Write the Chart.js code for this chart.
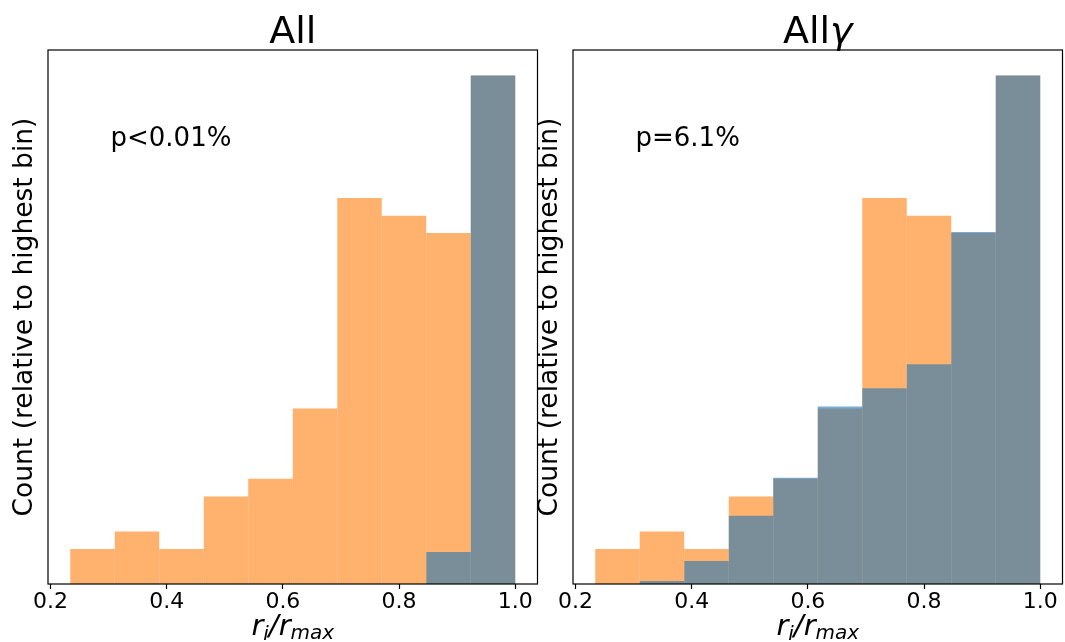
<!DOCTYPE html>
<html>
<head>
<meta charset="utf-8">
<script src="https://cdn.jsdelivr.net/npm/chart.js@4/dist/chart.umd.min.js"></script>
<style>
  html, body { margin: 0; padding: 0; background: #fff; }
  #wrap { position: relative; width: 1065px; height: 642px; overflow: hidden; }
  .panel { position: absolute; top: 0; width: 540px; height: 642px; }
</style>
</head>
<body>
<div id="wrap">
  <div class="panel" style="left:0"><canvas id="cAll"></canvas></div>
  <div class="panel" style="left:525px"><canvas id="cAllGamma"></canvas></div>
</div>
<script>
// Histogram bin centres (10 equal bins from 0.234 to 1.0) and axis ticks
const binCenters = [0.2723, 0.3489, 0.4255, 0.5021, 0.5787, 0.6553, 0.7319, 0.8085, 0.8851, 0.9617];
const xTicks = [0.2, 0.4, 0.6, 0.8, 1.0];

// Counts relative to the highest bin
const referenceCounts = [0.069, 0.103, 0.069, 0.172, 0.207, 0.345, 0.759, 0.724, 0.690, 1.0];
const allCounts       = [0, 0, 0, 0, 0, 0, 0, 0, 0.063, 1.0];
const allGammaCounts  = [0, 0.006, 0.045, 0.134, 0.209, 0.349, 0.385, 0.432, 0.692, 1.0];

const pValueAll = 'p<0.01%';
const pValueAllGamma = 'p=6.1%';

const FONT = "'DejaVu Sans', sans-serif";
const ORANGE = 'rgba(255,127,14,0.6)';
const BLUE = 'rgba(31,119,180,0.6)';

Chart.defaults.font.family = FONT;
Chart.defaults.color = '#000';

// Draws a run of text pieces (with optional font and vertical shift) centred on cx
function drawRich(ctx, parts, cx, baseline) {
  ctx.save();
  ctx.textBaseline = 'alphabetic';
  ctx.textAlign = 'left';
  let total = 0;
  const widths = parts.map(p => { ctx.font = p.font; const w = ctx.measureText(p.text).width; total += w; return w; });
  let x = cx - total / 2;
  parts.forEach((p, i) => {
    ctx.font = p.font;
    ctx.fillStyle = '#000';
    ctx.fillText(p.text, x, baseline + (p.dy || 0));
    x += widths[i];
  });
  ctx.restore();
}

const xLabelParts = [
  { text: 'r', font: `oblique 29px ${FONT}` },
  { text: 'i', font: `oblique 20px ${FONT}`, dy: 5 },
  { text: '/', font: `oblique 29px ${FONT}` },
  { text: 'r', font: `oblique 29px ${FONT}` },
  { text: 'max', font: `oblique 20px ${FONT}`, dy: 4 }
];

const panelDecor = {
  id: 'panelDecor',
  afterDraw(chart, args, opts) {
    const { ctx, chartArea: a } = chart;
    // frame
    ctx.save();
    ctx.strokeStyle = '#000';
    ctx.lineWidth = 1.2;
    ctx.strokeRect(a.left, a.top, a.right - a.left, a.bottom - a.top);
    ctx.restore();
    const cx = (a.left + a.right) / 2;
    // panel title
    drawRich(ctx, opts.title, cx, a.top - 7);
    // x-axis label
    drawRich(ctx, xLabelParts, cx, a.bottom + 51);
    // p-value note
    ctx.save();
    ctx.font = `26px ${FONT}`;
    ctx.fillStyle = '#000';
    ctx.textAlign = 'left';
    ctx.textBaseline = 'alphabetic';
    ctx.fillText(opts.note, a.left + 62.5, a.top + 96);
    ctx.restore();
  }
};

function makePanel(id, counts, title, note) {
  return new Chart(document.getElementById(id), {
    type: 'bar',
    data: {
      datasets: [
        {
          data: binCenters.map((x, i) => ({ x, y: counts[i] })),
          backgroundColor: BLUE, borderWidth: 0, grouped: false, order: 0,
          barPercentage: 1, categoryPercentage: 1, inflateAmount: 0
        },
        {
          data: binCenters.map((x, i) => ({ x, y: referenceCounts[i] })),
          backgroundColor: ORANGE, borderWidth: 0, grouped: false, order: 1,
          barPercentage: 1, categoryPercentage: 1, inflateAmount: 0
        }
      ]
    },
    options: {
      responsive: true,
      maintainAspectRatio: false,
      animation: false,
      events: [],
      layout: { padding: { left: 0, right: 2.5, top: 50, bottom: 0 } },
      plugins: {
        legend: { display: false },
        tooltip: { enabled: false },
        panelDecor: { title, note }
      },
      scales: {
        x: {
          type: 'linear',
          offset: false,
          min: 0.1957,
          max: 1.0383,
          afterBuildTicks: s => { s.ticks = xTicks.map(v => ({ value: v })); },
          afterFit: s => { s.height = 58; },
          ticks: {
            font: { size: 22 }, color: '#000', padding: 0,
            maxRotation: 0, autoSkip: false,
            callback: v => v.toFixed(1)
          },
          grid: { offset: false, drawOnChartArea: false, drawTicks: true, tickLength: 5, tickWidth: 1.2, tickColor: '#000' },
          border: { display: false }
        },
        y: {
          min: 0,
          max: 1.05,
          afterFit: s => { s.width = 48; },
          ticks: { display: false },
          grid: { display: false },
          border: { display: false },
          title: {
            display: true,
            text: 'Count (relative to highest bin)',
            font: { size: 26.5 },
            color: '#000',
            padding: { top: 9.5, bottom: 0 }
          }
        }
      }
    },
    plugins: [panelDecor]
  });
}

makePanel('cAll', allCounts,
  [{ text: 'All', font: `38px ${FONT}` }], pValueAll);
makePanel('cAllGamma', allGammaCounts,
  [{ text: 'All', font: `38px ${FONT}` }, { text: 'γ', font: `oblique 38px ${FONT}` }], pValueAllGamma);
</script>
</body>
</html>
